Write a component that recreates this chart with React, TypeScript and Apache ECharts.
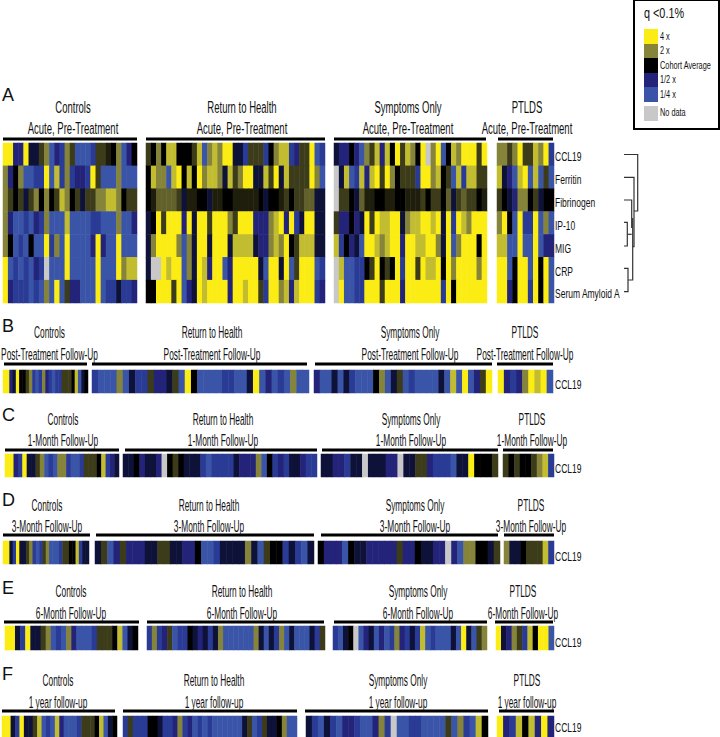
import React, { useEffect, useRef } from "react";
import * as echarts from "echarts";

// Fold-change code per cell: 4 = 4x, 2 = 2x, 0 = cohort average, -2 = 1/2x, -4 = 1/4x, 9 = no data
const NO_DATA = 9;
const markers = ["CCL19", "Ferritin", "Fibrinogen", "IP-10", "MIG", "CRP", "Serum Amyloid A"];
const stripMarker = ["CCL19"];
const cohorts = ["Controls", "Return to Health", "Symptoms Only", "PTLDS"];
const timepoints = [
  "Acute, Pre-Treatment",
  "Post-Treatment Follow-Up",
  "1-Month Follow-Up",
  "3-Month Follow-Up",
  "6-Month Follow-Up",
  "1 year follow-up",
];
const panelLetters = ["A", "B", "C", "D", "E", "F"];

const acuteControls = [
  [4,4,-2,-2,4,-1,-1,1,2,-4,-2,-3,2,1,-4,-4,-4,-3,1,1,0.5,0,2,-4,-2,0],
  [2,-2,0,2,-4,-4,-3,-3,4,-4,3,-3,2,-3,-2,-2,-3,4,1,-4,-4,-4,2,-4,-4,-4],
  [2,1,0,1,-1,1,2,0,2,0,1,3,2,0,1,-1,1,1,2,2,3,3,2,0,1,1],
  [2,-2,-4,-4,-3,-4,-2,-3,2,-4,-4,-4,3,-4,-4,-4,-4,-3,-3,-4,-4,-4,2,-4,-4,-2],
  [2,0,-4,-3,-4,0,-4,-4,4,-3,2,-4,4,-4,-4,-4,-4,-2,4,-2,-4,-4,4,-4,-4,-4],
  [4,-4,-3,-4,-3,-4,-2,-3,NO_DATA,-4,-4,-4,4,-4,-4,-4,-4,-4,4,-4,-4,-4,4,2,3,3],
  [4,-2,-3,-3,-3,-4,-3,-4,2,-4,4,-4,1,-2,-2,-4,-4,-4,4,-4,-3,-3,-1,-3,-3,-2],
];
const acuteReturn = [
  [1,0,2,0,3,3,0,0,0,1,3,-4,2,3,2,4,4,-1,-1,-3,1,1,1,-3,0,2,3,3,-3,-2,1,1,4,-4,-3],
  [0,3,2,2,-4,3,4,0,3,0,4,2,3,3,2,-1,3,1,2,4,4,-1,-1,3,1,4,-1,3,1,1,1,1,4,2,-4],
  [0,0.5,1.5,1.5,1.5,1.5,1,-1,0.5,0.5,0,0,-1,0.5,0.5,0,0,0.5,0.5,0.5,0.5,0.5,0,-1,0,0,0.5,1,0,1,1,1.5,1.5,-1,-1],
  [-1,0,4,1,4,4,4,-2,4,-1,4,4,1,4,4,4,2,1,4,4,4,-2,-2,-2,2,3,4,-2,4,-3,-1,4,4,-1,-1],
  [-1,2,4,4,4,4,2,-4,2,-1,4,4,-1,4,4,4,-1,3,3,3,3,-1,-2,-2,2,3,2,4,0,1,3,3,3,-1,-1],
  [-1,NO_DATA,NO_DATA,4,3,4,4,-4,2,-1,4,3,-2,4,4,-4,-2,4,4,4,4,4,-1,-4,4,4,-1,4,-4,1,4,4,4,-4,-3],
  [0,0,4,4,4,1,4,-4,-2,-1,4,3,4,4,4,4,-2,4,4,3,4,4,1,-3,4,4,2,3,-2,3,4,4,4,-3,-2],
];
const acuteSymptoms = [
  [-1,-2,-2,0,-2,-4,2,1,3,-2,3,0,4,1,3,2,0,4,NO_DATA,2,4,-4,0,3,2,4,4,4,1,4],
  [NO_DATA,-1,3,-4,-3,3,-2,3,4,1,4,2,0,1,1,1,-3,4,4,2,3,0,1,-4,3,-3,3,3,1,1],
  [NO_DATA,1,1,0,-1,1.5,0.5,0.5,0,0,0.5,0.5,0,0,0.5,0.5,0.5,1,0,1,1,0,1.5,-1,1,1.5,1,1,0,0.5],
  [1,-2,-2,0,-2,-1,4,1,4,3,3,4,4,-1,2,3,3,4,4,3,4,-1,4,-3,4,3,2,4,4,4],
  [3,-3,0,-2,-1,-4,4,4,3,2,3,4,4,-2,4,4,3,3,4,4,2,-1,4,-4,2,4,4,4,0,4],
  [NO_DATA,3,-4,-4,-3,-3,0,1,4,0,1,0,4,-3,4,4,1,4,3,3,4,0,4,2,4,4,4,4,2,4],
  [NO_DATA,4,-4,-4,-3,-3,4,4,4,1,4,4,4,-2,4,4,4,4,4,4,4,-3,4,0,4,4,4,4,4,4],
];
const acutePtlds = [
  [2,2,1,2,4,1,1,3,2,4,-3],
  [3,-1,-2,-4,3,4,-4,3,-4,1,-4],
  [1,0,-1,-2,2,2,0,1,-1,0,0],
  [2,4,0,-4,4,-3,-3,4,-4,2,-4],
  [3,3,-4,-4,4,-4,-4,4,-4,-2,-2],
  [4,4,-4,0,4,4,-4,4,0,4,-4],
  [4,4,-2,0,4,4,-3,4,0,4,-4],
];

const postControls = [[4,4,-2,-1,4,0,0,1,2,-3,-4,-3,2,-2,-3,-4,-3,-3,1,1,1,0,3,-4,-1,0]];
const postReturn = [[-3,-4,-4,-4,2,-4,-1,-3,-3,1,-2,-2,-1,1,-4,4,0,-4,-4,-4,-4,-3,-3,-4,-4,-1,4,-4,-2,-4,-3,-4,2,-4,-4]];
const postSymptoms = [[-2,-4,-4,-1,-4,-1,-3,-4,-4,-4,0,2,-4,-1,1,-4,-3,-4,-4,-4,-4,-1,-4,3,-4,4,-4,-2,1,4]];
const postPtlds = [[4,-2,-3,-2,2,4,3,4,-4]];

const month1Controls = [[4,4,-2,-3,4,-1,-1,1,2,-4,-3,-4,2,2,-3,-4,-4,-3,1,1,1,0,3,-3,-2,-1]];
const month1Return = [[-1,-1,0,-2,-1,-1,-2,NO_DATA,0,1,0,-1,-1,-1,-3,-4,-3,-3,-3,-3,-1,-2,-2,-2,2,-4,0,-3,-2,-3,-1,-1,-2,-3,-3]];
const month1Symptoms = [[-1,-1,-2,-2,-3,-1,-1,NO_DATA,-1,-1,-1,-2,-2,NO_DATA,-1,-1,1,1,-2,-3,-3,-3,-4,-1,-1,4,0,0,0,1]];
const month1Ptlds = [[1,0,1,0,0,1,2,3,-3]];

const month3Controls = [[4,4,-1,-3,4,-1,-1,1,2,-3,-4,-3,1,2,-4,-4,-4,-3,1,1,0,0,3,-3,-1,-1]];
const month3Return = [[-1,1,-4,-2,1,-2,-2,-2,-1,-1,1,1,-1,-1,-2,-2,0,-4,-4,-3,-1,-1,-1,-1,2,-1,-4,1,0,0,-3,-1,-3,-4,-1]];
const month3Symptoms = [[0,-2,-2,-2,-4,0,-1,-1,-2,-2,-2,-2,-2,1,-2,-2,0,-1,-1,-2,-2,NO_DATA,-2,-4,2,2,0,0,-1,1]];
const month3Ptlds = [[2,-1,-1,0,1,1,1,3,-3]];

const month6Controls = [[4,4,-1,-3,4,-1,-1,1,2,-4,-3,-4,2,-2,-4,-4,-4,-3,1,1,1,0,3,-4,-1,0]];
const month6Return = [[-3,2,-3,-2,1,-4,-3,-3,0,-1,-2,-1,-3,-1,2,-4,-4,-4,-4,-4,-4,2,-1,-4,-1,-3,2,-4,-1,-4,-4,-4,-1,-3,1]];
const month6Symptoms = [[-3,-4,-1,0,NO_DATA,-4,-2,-1,-4,-2,-4,-3,2,-2,-3,-1,-3,3,-4,-3,-4,-4,-4,-1,-4,4,-1,-4,1,2]];
const month6Ptlds = [[4,-1,-2,2,1,-3,3,0,4,4,-4]];

const year1Controls = [[4,4,-1,-3,4,-1,-1,1,3,-4,-3,-4,3,-2,-4,-4,-4,-3,1,1,1,0,3,-4,-1,0]];
const year1Return = [[-3,1,-3,-3,-3,0,0,-1,-3,-3,-2,2,-3,-2,-4,-3,-4,-3,-4,-4,-4,-4,-4,-4,-1,1,-4,-3,1,-1,-1,0,2,-4,-4]];
const year1Symptoms = [[-1,-3,-4,-1,-3,-4,-2,-2,-3,-4,-4,-2,2,-3,NO_DATA,-4,-4,-3,-3,-4,-4,-4,-4,1,-4,2,-3,-4,3,0]];
const year1Ptlds = [[4,-2,-3,3,0,3,-2,4,-2]];

const legendLabels = ["4 x", "2 x", "Cohort Average", "1/2 x", "1/4 x", "No data"];
const legendColors = ["#fbec14", "#85843a", "#000000", "#23237a", "#3a55a8", "#c8c8c8"];
const levels = [-4, -3, -2, -1, 0, 0.5, 1, 1.5, 2, 3, 4, NO_DATA];
const levelColors = ["#3a55a8", "#2a3b96", "#23237a", "#0e1238", "#000000", "#1f1e0c", "#3d3c1a", "#62612b", "#85843a", "#c2bc30", "#fbec14", "#c8c8c8"];

// Layout of each panel: row band, rule height, title lines; per cohort: cells, rule, title centre.
const panels = [
  { letterY: 94.5, top: 143, bottom: 303, rule: 139, t1: 107, t2: 128, labelY: null, titleScale: 0.56,
    data: [acuteControls, acuteReturn, acuteSymptoms, acutePtlds],
    cells: [[3, 137], [146, 325], [334, 487], [497, 554]],
    rules: [[3, 137], [146, 325], [334, 486], [498, 553]],
    titles: [73, 242, 408, 527] },
  { letterY: 326, top: 370, bottom: 393, rule: 364, t1: 332, t2: 354, labelY: 384, titleScale: 0.49,
    data: [postControls, postReturn, postSymptoms, postPtlds],
    cells: [[3, 88], [92, 309], [314, 492], [498, 553]],
    rules: [[4, 87], [92, 307], [315, 492], [497, 553]],
    titles: [49.5, 212, 410, 525] },
  { letterY: 415, top: 454, bottom: 477, rule: 450, t1: 419, t2: 440, labelY: 468, titleScale: 0.49,
    data: [month1Controls, month1Return, month1Symptoms, month1Ptlds],
    cells: [[5, 119], [123, 317], [321, 498], [503, 554]],
    rules: [[5, 119], [125, 317], [322, 498], [503, 553]],
    titles: [63, 223, 411, 532] },
  { letterY: 500, top: 541, bottom: 564, rule: 535, t1: 505, t2: 526, labelY: 556, titleScale: 0.49,
    data: [month3Controls, month3Return, month3Symptoms, month3Ptlds],
    cells: [[3, 89], [95, 314], [318, 500], [504, 554]],
    rules: [[3, 90], [96, 314], [321, 498], [504, 554]],
    titles: [47, 209, 415, 531] },
  { letterY: 588, top: 626, bottom: 650, rule: 622, t1: 591, t2: 613, labelY: 642, titleScale: 0.49,
    data: [month6Controls, month6Return, month6Symptoms, month6Ptlds],
    cells: [[5, 138], [147, 325], [333, 487], [496, 554]],
    rules: [[4, 139], [147, 324], [334, 487], [495, 553]],
    titles: [71, 242, 418, 523] },
  { letterY: 673.5, top: 716, bottom: 737, rule: 711, t1: 680, t2: 702, labelY: 727, titleScale: 0.49,
    data: [year1Controls, year1Return, year1Symptoms, year1Ptlds],
    cells: [[2, 117], [123, 297], [306, 488], [497, 554]],
    rules: [[2, 115], [123, 297], [305, 488], [499, 554]],
    titles: [58, 214, 398, 527] },
];

const FONT = "'Liberation Sans', Arial, sans-serif";
const INK = "#111111";

function label(text: string, x: number, y: number, size: number, scaleX: number, align = "center") {
  return {
    type: "text", x, y, scaleX, silent: true,
    style: { text, fontFamily: FONT, fontSize: size, fill: INK, textAlign: align, textVerticalAlign: "middle" },
  };
}

function bracket(points: number[][]) {
  return {
    type: "polyline", silent: true,
    shape: { points },
    style: { stroke: "#333333", lineWidth: 1.2, fill: "none" },
  };
}

function buildOption() {
  const grid: any[] = [];
  const xAxis: any[] = [];
  const yAxis: any[] = [];
  const series: any[] = [];
  const graphic: any[] = [];

  panels.forEach((p, pi) => {
    const yNames = pi === 0 ? markers : stripMarker;
    graphic.push(label(panelLetters[pi], 2, p.letterY, 18, 1, "left"));
    p.data.forEach((rows, gi) => {
      const idx = grid.length;
      const [l, r] = p.cells[gi];
      grid.push({ left: l, top: p.top, width: r - l, height: p.bottom - p.top, containLabel: false });
      xAxis.push({ type: "category", gridIndex: idx, show: false, data: rows[0].map((_, i) => String(i + 1)) });
      yAxis.push({ type: "category", gridIndex: idx, show: false, inverse: true, data: yNames });
      const cells: number[][] = [];
      rows.forEach((row, ri) => row.forEach((v, ci) => cells.push([ci, ri, v])));
      series.push({
        type: "heatmap", xAxisIndex: idx, yAxisIndex: idx, data: cells, silent: true,
        progressive: 0, itemStyle: { borderWidth: 0 },
      });
      const [bl, br] = p.rules[gi];
      graphic.push({ type: "rect", silent: true, shape: { x: bl, y: p.rule - 1.5, width: br - bl, height: 3 }, style: { fill: "#000" } });
      graphic.push(label(cohorts[gi], p.titles[gi], p.t1, 17, p.titleScale));
      graphic.push(label(timepoints[pi], p.titles[gi], p.t2, 17, p.titleScale));
    });
    if (p.labelY !== null) graphic.push(label(stripMarker[0], 555, p.labelY, 12.5, 0.68, "left"));
  });

  const rowYs = [156, 179, 202, 225, 248, 271, 293];
  markers.forEach((m, i) => graphic.push(label(m, 555, rowYs[i], 12.5, 0.68, "left")));

  // Dendrogram beside panel A
  graphic.push(
    bracket([[624, 154.5], [637.7, 154.5], [637.7, 211], [634, 211]]),
    bracket([[624, 177.3], [634, 177.3], [634, 246.7], [632.7, 246.7]]),
    bracket([[624, 200], [631.7, 200], [631.7, 228]]),
    bracket([[624, 222.3], [627.3, 222.3], [627.3, 246], [624, 246]]),
    bracket([[627.3, 234.3], [631.7, 234.3]]),
    bracket([[624, 268.3], [628, 268.3], [628, 291.7], [624, 291.7]]),
    bracket([[628, 280], [632.7, 280], [632.7, 218]]),
  );

  // Colour key
  graphic.push({ type: "rect", silent: true, shape: { x: 634, y: 0, width: 85, height: 129 }, style: { fill: "#fff", stroke: "#000", lineWidth: 2 } });
  graphic.push(label("q <0.1%", 644, 12.5, 15.5, 0.7, "left"));
  const keyTops = [29, 44, 58, 73, 87, 106];
  const keyHeights = [15, 14, 15, 14, 15, 15];
  const keyTextY = [37, 51, 66, 80, 95, 112.5];
  legendLabels.forEach((t, i) => {
    graphic.push({ type: "rect", silent: true, shape: { x: 644, y: keyTops[i], width: 14, height: keyHeights[i] }, style: { fill: legendColors[i] } });
    graphic.push(label(t, 660, keyTextY[i], 10.5, 0.7, "left"));
  });

  return {
    animation: false,
    backgroundColor: "#ffffff",
    tooltip: { show: false },
    grid, xAxis, yAxis, series, graphic,
    visualMap: {
      type: "piecewise", show: false,
      pieces: levels.map((value, i) => ({ value, color: levelColors[i] })),
    },
  };
}

export default function App() {
  const ref = useRef<HTMLDivElement>(null);
  useEffect(() => {
    document.body.style.margin = "0";
    const chart = echarts.init(ref.current!, null, { renderer: "svg" });
    chart.setOption(buildOption() as any);
    return () => chart.dispose();
  }, []);
  return <div ref={ref} style={{ position: "absolute", left: 0, top: 0, width: 720, height: 737 }} />;
}
